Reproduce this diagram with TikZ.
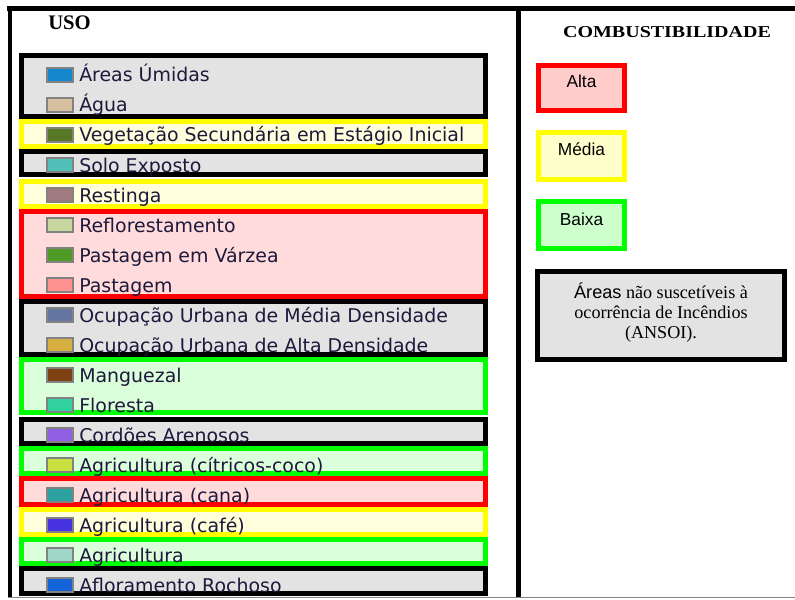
\documentclass[tikz,border=0pt]{standalone}
\usepackage{fontspec}
\setmainfont{Liberation Serif}
\newfontfamily\legendfont{DejaVu Sans}
\newfontfamily\arialfont{Liberation Sans}
\usepackage{tikz}
\usetikzlibrary{calc}
\usepackage{xcolor}

\definecolor{txtcol}{RGB}{30,25,60}
\definecolor{swgray}{RGB}{130,130,130}
\definecolor{myred}{RGB}{255,0,0}
\definecolor{myyellow}{RGB}{255,255,0}
\definecolor{mygreen}{RGB}{0,255,0}

\tikzset{
  frame/.style={line width=3.6pt, black},
  blackbox/.style={draw=black, fill=gray!22, line width=3.75pt},
  redbox/.style={draw=myred, fill=myred!14, line width=3.75pt},
  yellowbox/.style={draw=myyellow, fill=myyellow!14, line width=3.75pt},
  greenbox/.style={draw=mygreen, fill=mygreen!14, line width=3.75pt},
  swatch/.style={draw=swgray, line width=1.5pt, minimum width=19.5pt, minimum height=11.2pt, inner sep=0pt},
  item/.style={anchor=base west, inner sep=0pt, text=txtcol, font=\legendfont\fontsize{14.2pt}{16pt}\selectfont},
  level/.style={anchor=base, inner sep=0pt, font=\arialfont\fontsize{13pt}{15pt}\selectfont}
}

\begin{document}
\begin{tikzpicture}[x=0.75pt, y=-0.75pt]
        \useasboundingbox (0,0) rectangle (795,599);
        % frame
        \draw[frame] (7,8.3) -- (795,8.3);
        \draw[frame] (10,6.5) -- (10,597);
        \draw[frame] (518.5,6.5) -- (518.5,597);
        \draw[swgray, line width=0.8pt] (8,597.8) -- (795,597.8);
        % headings
        \node (uso) at (48,30) [anchor=base west, inner sep=0pt, font=\bfseries\fontsize{15.5pt}{17pt}\selectfont] {USO};
        \node (comb) at (667,38) [anchor=base, inner sep=0pt, font=\bfseries\fontsize{12.5pt}{14pt}\selectfont] {\scalebox{1.2}[1]{COMBUSTIBILIDADE}};
        % groups of the legend
        \draw[blackbox] (21.5,55.5) rectangle (485.5,116.5);
        \draw[yellowbox] (21.5,121.5) rectangle (485.5,146.5);
        \draw[blackbox] (21.5,151.5) rectangle (485.5,174.5);
        \draw[yellowbox] (21.5,181.5) rectangle (485.5,206.5);
        \draw[redbox] (21.5,211.5) rectangle (485.5,296.5);
        \draw[blackbox] (21.5,301.5) rectangle (485.5,354.5);
        \draw[greenbox] (21.5,359.5) rectangle (485.5,412.5);
        \draw[blackbox] (21.5,419.5) rectangle (485.5,443.5);
        \draw[greenbox] (21.5,448.5) rectangle (485.5,473.5);
        \draw[redbox] (21.5,478.5) rectangle (485.5,504.5);
        \draw[yellowbox] (21.5,509.5) rectangle (485.5,534.5);
        \draw[greenbox] (21.5,539.5) rectangle (485.5,563);
        \draw[blackbox] (21.5,568.5) rectangle (485.5,593.5);
        % swatches
        \node (sw1) at (59.5,75) [swatch, fill={rgb,255:red,20;green,135;blue,205}] {};
        \node (sw2) at (59.5,105) [swatch, fill={rgb,255:red,215;green,192;blue,160}] {};
        \node (sw3) at (59.5,135) [swatch, fill={rgb,255:red,88;green,120;blue,40}] {};
        \node (sw4) at (59.5,165) [swatch, fill={rgb,255:red,80;green,192;blue,185}] {};
        \node (sw5) at (59.5,195) [swatch, fill={rgb,255:red,160;green,124;blue,128}] {};
        \node (sw6) at (59.5,225) [swatch, fill={rgb,255:red,200;green,215;blue,160}] {};
        \node (sw7) at (59.5,255) [swatch, fill={rgb,255:red,80;green,155;blue,40}] {};
        \node (sw8) at (59.5,285) [swatch, fill={rgb,255:red,255;green,145;blue,145}] {};
        \node (sw9) at (59.5,315) [swatch, fill={rgb,255:red,100;green,118;blue,160}] {};
        \node (sw10) at (59.5,345) [swatch, fill={rgb,255:red,215;green,175;blue,65}] {};
        \node (sw11) at (59.5,375) [swatch, fill={rgb,255:red,125;green,65;blue,20}] {};
        \node (sw12) at (59.5,405) [swatch, fill={rgb,255:red,50;green,210;blue,160}] {};
        \node (sw13) at (59.5,435) [swatch, fill={rgb,255:red,145;green,95;blue,225}] {};
        \node (sw14) at (59.5,465) [swatch, fill={rgb,255:red,200;green,225;blue,65}] {};
        \node (sw15) at (59.5,495) [swatch, fill={rgb,255:red,45;green,160;blue,160}] {};
        \node (sw16) at (59.5,525) [swatch, fill={rgb,255:red,70;green,50;blue,225}] {};
        \node (sw17) at (59.5,555) [swatch, fill={rgb,255:red,160;green,215;blue,200}] {};
        \node (sw18) at (59.5,585) [swatch, fill={rgb,255:red,20;green,100;blue,215}] {};
        % labels
        \node (t1) at (79,82) [item] {Áreas Úmidas};
        \node (t2) at (79,112) [item] {Água};
        \node (t3) at (79,142) [item] {Vegetação Secundária em Estágio Inicial};
        \node (t4) at (79,172) [item] {Solo Exposto};
        \node (t5) at (79,202) [item] {Restinga};
        \node (t6) at (79,232) [item] {Reflorestamento};
        \node (t7) at (79,262) [item] {Pastagem em Várzea};
        \node (t8) at (79,292) [item] {Pastagem};
        \node (t9) at (79,322) [item] {Ocupação Urbana de Média Densidade};
        \node (t10) at (79,352) [item] {Ocupação Urbana de Alta Densidade};
        \node (t11) at (79,382) [item] {Manguezal};
        \node (t12) at (79,412) [item] {Floresta};
        \node (t13) at (79,442) [item] {Cordões Arenosos};
        \node (t14) at (79,472) [item] {Agricultura (cítricos-coco)};
        \node (t15) at (79,502) [item] {Agricultura (cana)};
        \node (t16) at (79,532) [item] {Agricultura (café)};
        \node (t17) at (79,562) [item] {Agricultura};
        \node (t18) at (79,592) [item] {Afloramento Rochoso};
        % combustibilidade
        \draw[redbox, fill=myred!20] (538.5,65.5) rectangle (624.5,110.5);
        \node (alta) at (581.5,88) [level] {Alta};
        \draw[yellowbox, fill=myyellow!20] (538.5,132.5) rectangle (624.5,179.5);
        \node (media) at (581.5,156) [level] {Média};
        \draw[greenbox, fill=mygreen!20] (538.5,201.5) rectangle (624.5,248.5);
        \node (baixa) at (581.5,225) [level] {Baixa};
        \draw[blackbox] (537.5,271.5) rectangle (784.5,359.5);
        \node (ansoi) at (661,338) [anchor=base, inner sep=0pt, align=center, font=\fontsize{13.6pt}{15pt}\selectfont] {{\arialfont Áreas} não suscetíveis à\\ocorrência de Incêndios\\(ANSOI).};
    \end{tikzpicture}
\end{document}
